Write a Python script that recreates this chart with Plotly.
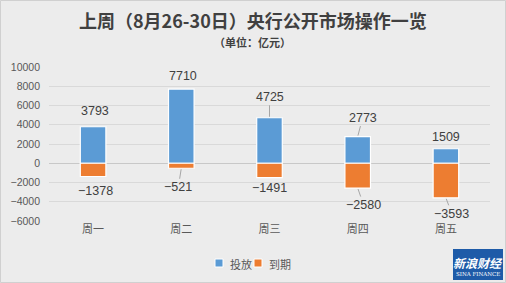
import plotly.graph_objects as go

categories = ["周一", "周二", "周三", "周四", "周五"]
injection = [3793, 7710, 4725, 2773, 1509]
maturity = [-1378, -521, -1491, -2580, -3593]
series_names = ["投放", "到期"]
y_ticks = [-6000, -4000, -2000, 0, 2000, 4000, 6000, 8000, 10000]

title_text = "上周（8月26-30日）央行公开市场操作一览"
subtitle_text = "（单位：亿元）"

BLUE = "#5B9BD5"
ORANGE = "#ED7D31"
TXT = "#404040"
FONT = "Noto Sans CJK SC"

# plot area in pixels (for placing decorations)
L, R, T, B = 49, 490, 67, 221
def px(x):
    return (x - L) / (R - L)
def py(y):
    return (B - y) / (B - T)

fig = go.Figure()
fig.add_trace(go.Bar(x=categories, y=injection, name=series_names[0],
                     marker=dict(color=BLUE, line=dict(color="white", width=1.2)),
                     width=0.29, hoverinfo="x+y", showlegend=False))
fig.add_trace(go.Bar(x=categories, y=maturity, name=series_names[1],
                     marker=dict(color=ORANGE, line=dict(color="white", width=1.2)),
                     width=0.29, hoverinfo="x+y", showlegend=False))

def fmt(v):
    return ("−" if v < 0 else "") + str(abs(v))

# label offsets (pixels): (ax, ay, leader line?)
pos_style = [(2, -16, False), (2, -13, False), (0, -21, True), (5, -19, True), (0, -12, False)]
neg_style = [(2, 14, False), (-3, 19, True), (0, 10, False), (6, 17, True), (6, 16, True)]

annotations = []
for vals, styles in ((injection, pos_style), (maturity, neg_style)):
    for cat, v, (ax, ay, line) in zip(categories, vals, styles):
        annotations.append(dict(x=cat, y=v, xref="x", yref="y", text=fmt(v),
                                showarrow=line, arrowhead=0, arrowwidth=1, arrowcolor="#A6A6A6",
                                ax=ax, ay=ay, xshift=0 if line else ax, yshift=0 if line else -ay,
                                standoff=1, yanchor="middle", xanchor="center",
                                font=dict(size=12.5, color=TXT, family="Arial")))

# titles
annotations.append(dict(x=px(253), y=py(20), xref="paper", yref="paper", text="<b>" + title_text + "</b>",
                        showarrow=False, xanchor="center", yanchor="middle",
                        font=dict(size=18, color=TXT, family=FONT)))
annotations.append(dict(x=px(252), y=py(41.5), xref="paper", yref="paper", text="<b>" + subtitle_text + "</b>",
                        showarrow=False, xanchor="center", yanchor="middle",
                        font=dict(size=11, color=TXT, family=FONT)))

# legend (drawn manually to match compact spacing)
legend_items = [(series_names[0], BLUE, 215, 228), (series_names[1], ORANGE, 254, 267)]
for name, col, sx, tx in legend_items:
    fig.add_shape(type="rect", xref="paper", yref="paper",
                  x0=px(sx), x1=px(sx + 8), y0=py(267), y1=py(259),
                  line=dict(color="white", width=1), fillcolor=col)
    annotations.append(dict(x=px(tx), y=py(263.5), xref="paper", yref="paper", text=name,
                            showarrow=False, xanchor="left", yanchor="middle",
                            font=dict(size=11, color="#595959", family=FONT)))

# logo
fig.add_shape(type="rect", xref="paper", yref="paper",
              x0=px(453), x1=px(503), y0=py(280), y1=py(249),
              line=dict(width=0), fillcolor="#1E5BA8", layer="above")
annotations.append(dict(x=px(478), y=py(262), xref="paper", yref="paper", text="<b><i>新浪财经</i></b>",
                        showarrow=False, xanchor="center", yanchor="middle",
                        font=dict(size=12, color="white", family=FONT)))
annotations.append(dict(x=px(478), y=py(274), xref="paper", yref="paper", text="SINA FINANCE",
                        showarrow=False, xanchor="center", yanchor="middle",
                        font=dict(size=5.5, color="white", family="DejaVu Serif")))

# figure border
fig.add_shape(type="rect", xref="paper", yref="paper",
              x0=px(0.5), x1=px(505.5), y0=py(282.5), y1=py(0.5),
              line=dict(color="#D0D0D0", width=1), fillcolor="rgba(0,0,0,0)", layer="below")

fig.update_layout(
    width=506, height=283,
    margin=dict(l=L, r=506 - R, t=T, b=283 - B, autoexpand=False),
    paper_bgcolor="#ECECEC", plot_bgcolor="#ECECEC",
    barmode="relative", bargap=0.7,
    font=dict(family=FONT, color="#595959"),
    showlegend=False,
    xaxis=dict(showgrid=False, showline=False, zeroline=False, ticks="",
               tickfont=dict(size=11, color="#595959", family=FONT), fixedrange=True),
    yaxis=dict(range=[-6000, 10000], tickvals=y_ticks, tickformat="d", showgrid=True,
               gridcolor="#D9D9D9", gridwidth=1, zeroline=True, zerolinecolor="#C8C8C8",
               zerolinewidth=1, showline=False, ticks="", ticklabelstandoff=8,
               tickfont=dict(size=10.5, color="#595959", family="Arial"), fixedrange=True),
    annotations=annotations,
)

fig.write_html("out.html")
